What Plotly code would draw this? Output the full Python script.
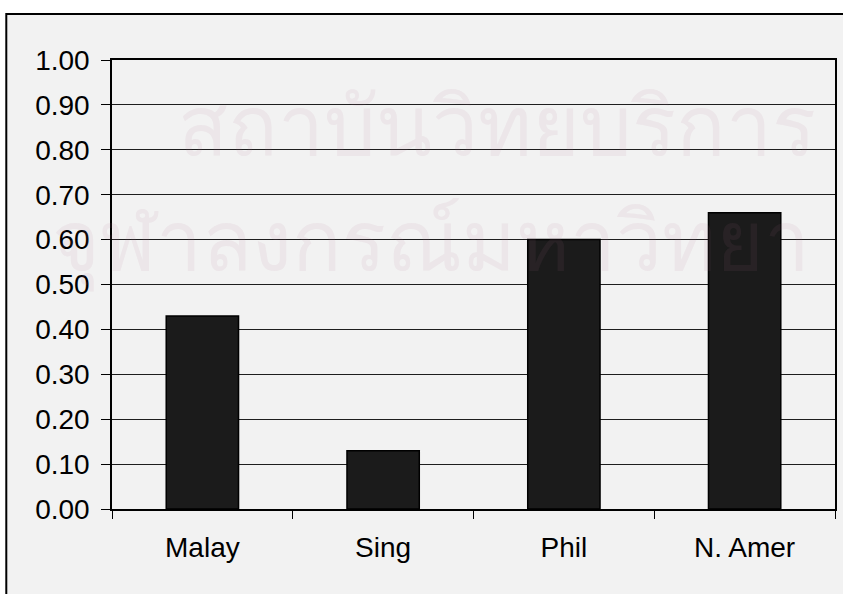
import plotly.graph_objects as go

# Data
regions = ["Malay", "Sing", "Phil", "N. Amer"]
values = [0.43, 0.13, 0.60, 0.66]
y_ticks = [0.0, 0.1, 0.2, 0.3, 0.4, 0.5, 0.6, 0.7, 0.8, 0.9, 1.0]
y_tick_text = [f"{v:.2f}" for v in y_ticks]
watermark_lines = ["สถาบันวิทยบริการ", "จุฬาลงกรณ์มหาวิทยา"]

W, H = 843, 594
L, R, T, B = 112, 6, 60, 85
pw, ph = W - L - R, H - T - B


def px_x(x):
    return (x - L) / pw


def px_y(y):
    return (H - B - y) / ph


FONT = "Liberation Sans, Arial, sans-serif"
WM_COLOR = "rgba(175,110,145,0.09)"

fig = go.Figure(
    go.Bar(
        x=regions,
        y=values,
        width=0.4,
        marker=dict(color="#1b1b1b", line=dict(color="#000000", width=1.5)),
        hoverinfo="x+y",
    )
)

# Outer chart frame with light grey fill
fig.add_shape(
    type="rect", xref="paper", yref="paper", layer="below",
    x0=px_x(6), x1=px_x(860), y0=px_y(14), y1=px_y(610),
    fillcolor="#f2f2f2", line=dict(color="#000000", width=2),
)

# Faint background lettering
fig.add_annotation(
    text=watermark_lines[0], xref="paper", yref="paper",
    x=px_x(176), y=px_y(126), xanchor="left", yanchor="middle",
    showarrow=False, font=dict(size=82, color=WM_COLOR),
)
fig.add_annotation(
    text=watermark_lines[1], xref="paper", yref="paper",
    x=px_x(50), y=px_y(244), xanchor="left", yanchor="middle",
    showarrow=False, font=dict(size=82, color=WM_COLOR),
)

fig.update_layout(
    width=W, height=H,
    margin=dict(l=L, r=R, t=T, b=B),
    paper_bgcolor="#ffffff",
    plot_bgcolor="rgba(0,0,0,0)",
    showlegend=False,
    bargap=0.6,
    font=dict(family=FONT, size=28, color="#000000"),
    xaxis=dict(
        showline=True, linecolor="#000000", linewidth=1.5, mirror=True,
        ticks="outside", ticklen=8, tickcolor="#000000", tickwidth=1,
        tickson="boundaries", showgrid=False,
        tickfont=dict(family=FONT, size=28, color="#000000"),
        ticklabelstandoff=13,
    ),
    yaxis=dict(
        range=[0, 1.0],
        tickvals=y_ticks, ticktext=y_tick_text,
        showline=True, linecolor="#000000", linewidth=1.5, mirror=True,
        ticks="outside", ticklen=9, tickcolor="#000000", tickwidth=1,
        showgrid=True, gridcolor="#1e1e1e", gridwidth=1,
        zeroline=False,
        tickfont=dict(family=FONT, size=28, color="#000000"),
        ticklabelstandoff=6,
    ),
)

fig.write_html("out.html")
